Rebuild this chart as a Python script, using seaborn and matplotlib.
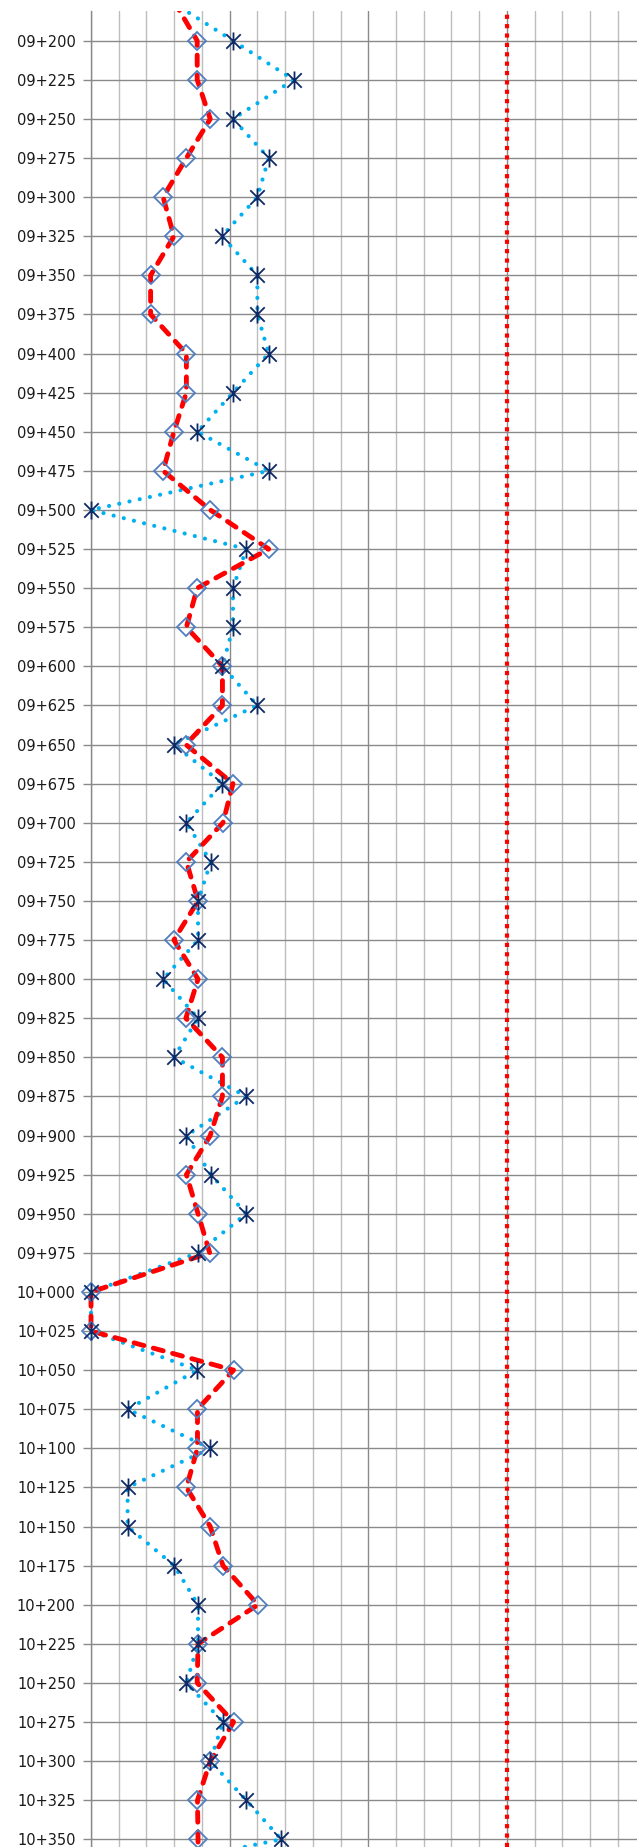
import numpy as np
import seaborn as sns
import matplotlib
matplotlib.use("Agg")
import matplotlib.pyplot as plt
from matplotlib.path import Path
from matplotlib.patches import Rectangle

# ---- data (stations incl. the two partly cropped ends) ----
STATIONS = [
    "09+175", "09+200", "09+225", "09+250", "09+275", "09+300", "09+325",
    "09+350", "09+375", "09+400", "09+425", "09+450", "09+475", "09+500",
    "09+525", "09+550", "09+575", "09+600", "09+625", "09+650", "09+675",
    "09+700", "09+725", "09+750", "09+775", "09+800", "09+825", "09+850",
    "09+875", "09+900", "09+925", "09+950", "09+975", "10+000", "10+025",
    "10+050", "10+075", "10+100", "10+125", "10+150", "10+175", "10+200",
    "10+225", "10+250", "10+275", "10+300", "10+325", "10+350", "10+375",
]
RED_VALUES = [
    3.0, 3.83, 3.83, 4.3, 3.44, 2.6, 2.99,
    2.15, 2.15, 3.44, 3.44, 2.99, 2.6, 4.3,
    6.41, 3.83, 3.44, 4.74, 4.74, 3.42, 5.12,
    4.76, 3.44, 3.86, 2.99, 3.86, 3.42, 4.74,
    4.74, 4.3, 3.44, 3.86, 4.28, 0.0, 0.0,
    5.14, 3.84, 3.84, 3.44, 4.3, 4.76, 6.02,
    3.86, 3.83, 5.14, 4.3, 3.84, 3.86, 3.86,
]
BLUE_VALUES = [
    2.9, 5.12, 7.31, 5.12, 6.41, 6.0, 4.72,
    6.0, 6.0, 6.41, 5.12, 3.84, 6.41, 0.0,
    5.6, 5.12, 5.12, 4.74, 6.0, 2.99, 4.74,
    3.44, 4.32, 3.86, 3.86, 2.6, 3.86, 2.99,
    5.6, 3.44, 4.32, 5.6, 3.86, 0.0, 0.0,
    3.84, 1.32, 4.3, 1.32, 1.32, 3.0, 3.86,
    3.86, 3.44, 4.76, 4.3, 5.6, 6.86, 0.0,
]
LIMIT_X = 15.0
TICK_LABELS = STATIONS[1:-1]


def to_metres(s):
    km, m = s.split("+")
    return int(km) * 1000 + int(m)


pos = np.array([to_metres(s) for s in STATIONS])
tick_pos = [to_metres(s) for s in TICK_LABELS]

sns.set_style("white")
plt.rcParams["font.family"] = ["DejaVu Sans"]

W, H = 637, 1847
Y_TOP, Y_BOT = 9181, 10354.9
fig = plt.figure(figsize=(W / 100, H / 100), dpi=100)
ax = fig.add_axes([91 / W, 0, 1 - 91 / W, 1 - 11 / H])

MAJOR = "#8a8a8a"
MINOR = "#bdbdbd"

# star marker: X plus a vertical bar
star = Path(
    [(-1, -1), (1, 1), (-1, 1), (1, -1), (0, -1.25), (0, 1.25)],
    [Path.MOVETO, Path.LINETO, Path.MOVETO, Path.LINETO, Path.MOVETO, Path.LINETO],
)

sns.lineplot(
    x=BLUE_VALUES, y=pos, orient="y", sort=False, estimator=None, ax=ax,
    color="#00b0f0", lw=3.0, linestyle=(0, (0.01, 2.5)),
    dash_capstyle="round", zorder=3,
)
sns.lineplot(
    x=RED_VALUES, y=pos, orient="y", sort=False, estimator=None, ax=ax,
    color="#ff0000", lw=3.5, linestyle=(0, (2.1, 2.0)),
    dash_capstyle="round", zorder=4,
)

# let the series spill a little past the left spine, but not above the top
clip = Rectangle((-0.6, Y_TOP), 21, Y_BOT - Y_TOP, transform=ax.transData)
for ln in ax.lines:
    ln.set_clip_path(clip)

vis = slice(1, -1)
ax.plot(RED_VALUES[vis], pos[vis], ls="none", marker="D", ms=9.5, mfc="none",
        mec="#4f7fc0", mew=1.3, zorder=5, clip_on=False)
ax.plot(BLUE_VALUES[vis], pos[vis], ls="none", marker=star, ms=13, mfc="none",
        mec="#0e2a66", mew=1.3, zorder=6, clip_on=False)

ax.axvline(LIMIT_X, color="#ff0000", lw=3.0, linestyle=(0, (1, 1.25)),
           dash_capstyle="butt", zorder=4)

ax.set_xlim(0, 19.69)
ax.set_ylim(Y_BOT, Y_TOP)

ax.set_xticks(np.arange(0, 20, 1))
ax.set_xticklabels([])
ax.set_yticks(tick_pos)
ax.set_yticklabels(TICK_LABELS, fontsize=10.5, color="#1a1a1a")
ax.tick_params(axis="x", length=0)
ax.tick_params(axis="y", length=6, width=1, color=MAJOR, pad=5, left=True)

ax.grid(True, axis="both", lw=1.0)
for i, gl in enumerate(ax.get_xgridlines()):
    gl.set_color(MAJOR if i % 5 == 0 else MINOR)
for gl in ax.get_ygridlines():
    gl.set_color(MAJOR)
ax.set_axisbelow(True)

for side in ["top", "right", "bottom"]:
    ax.spines[side].set_visible(False)
ax.spines["left"].set_color(MAJOR)
ax.spines["left"].set_linewidth(1.0)

ax.set_xlabel("")
ax.set_ylabel("")

fig.savefig("out.png", dpi=100)
